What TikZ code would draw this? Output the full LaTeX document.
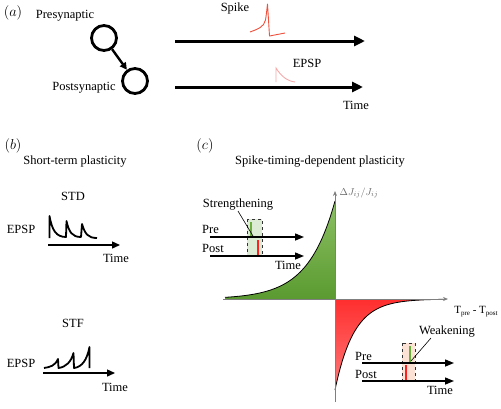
\documentclass[tikz,border=0pt]{standalone}
\usepackage{fontspec}
\setmainfont{Liberation Serif}
\usetikzlibrary{arrows.meta}
\definecolor{spikered}{HTML}{F0503C}
\definecolor{epsppink}{HTML}{F4A8A8}
\definecolor{gtop}{HTML}{8CC063}
\definecolor{gbot}{HTML}{5A9A30}
\definecolor{rtop}{HTML}{FF2E2E}
\definecolor{rbot}{HTML}{FF7A7A}
\definecolor{boxgreen}{HTML}{DCEBD3}
\definecolor{boxsalmon}{HTML}{FBE2D4}
\definecolor{axisgray}{HTML}{7F7F7F}
\definecolor{barred}{HTML}{FF2020}
\definecolor{bargreen}{HTML}{6AAE3C}
\begin{document}
\begin{tikzpicture}[x=1pt,y=-1pt,
  every node/.style={font=\fontsize{12.5}{15}\selectfont, inner sep=0pt},
  panel/.style={font=\fontsize{15}{18}\selectfont},
  neuron/.style={circle, draw, line width=2.8pt, minimum size=25pt},
  bigarrow/.style={line width=3pt, -{Triangle[length=11pt,width=10pt]}},
  synarrow/.style={line width=2.4pt, -{Triangle[length=7pt,width=7pt]}},
  midarrow/.style={line width=1.4pt, -{Triangle[length=8pt,width=7pt]}},
  insetarrow/.style={line width=1.4pt, -{Triangle[length=9pt,width=7pt]}},
  trace/.style={line width=1.8pt, line join=round},
  axisline/.style={axisgray, line width=0.7pt, -{Stealth[length=5pt,width=4pt]}},
  dashbox/.style={draw=black!80, dashed, line width=0.9pt},
  pointer/.style={line width=0.6pt}
]
\useasboundingbox (0,0) rectangle (501,408);

% ---------- (a)
\node[panel] (la) at (13,13) {$(a)$};
\node (pretext) at (65,16) {Presynaptic};
\node (posttext) at (84,88) {Postsynaptic};
\node[neuron] (pre) at (104,38) {};
\node[neuron] (post) at (135,81) {};
\draw[synarrow] (pre) -- (post);

\coordinate (a1s) at (175,41);
\coordinate (a1e) at (365,41);
\coordinate (a2s) at (175,87);
\coordinate (a2e) at (363,87);
\draw[bigarrow] (a1s) -- (a1e);
\draw[bigarrow] (a2s) -- (a2e);

\node (spiketext) at (235,8) {Spike};
\draw[spikered, line width=0.9pt, line join=round]
  (250,32) .. controls (258,29) and (264,27) .. (265.5,20)
  .. controls (266.5,14) and (267,8) .. (267.5,4)
  -- (269.5,36) -- (285,33);
\node (epsptext) at (307,63) {EPSP};
\draw[epsppink, line width=0.9pt] (276,82) -- (276,68)
  .. controls (281,76) and (287,81) .. (295,82);
\node (timea) at (356,105) {Time};

% ---------- (b)
\node[panel] (lb) at (13,146) {$(b)$};
\node (stptext) at (75,162) {Short-term plasticity};
\node (stdtext) at (73,196) {STD};
\node (epsp1) at (21,229) {EPSP};
\draw[trace] (49.5,238) -- (49.5,216)
  .. controls (52,230) and (56,237) .. (66,237)
  -- (66.5,221)
  .. controls (69,232) and (72,237) .. (81,237)
  -- (82,224)
  .. controls (85,234) and (88,238) .. (97,238);
\coordinate (b1s) at (48,245);
\coordinate (b1e) at (120,245);
\draw[midarrow] (b1s) -- (b1e);
\node (time1) at (116,258) {Time};

\node (stftext) at (73,323) {STF};
\node (epsp2) at (21,363) {EPSP};
\draw[trace] (44,368) .. controls (50,367) and (55,366) .. (58,359)
  -- (58.5,368)
  .. controls (66,367) and (71,362) .. (73.5,353)
  -- (74,368)
  .. controls (82,367) and (87,360) .. (89.5,347)
  -- (89.5,368);
\coordinate (b2s) at (43,373);
\coordinate (b2e) at (115,373);
\draw[midarrow] (b2s) -- (b2e);
\node (time2) at (115,387) {Time};

% ---------- (c)
\node[panel] (lc) at (205,146) {$(c)$};
\node (stdptext) at (320,162) {Spike-timing-dependent plasticity};

% green (LTP) region
\shade[top color=gtop, bottom color=gbot]
  (225,299) -- plot[domain=225:335, samples=80] (\x,{299-98*exp((\x-335)/27)}) -- (335,299) -- cycle;
\draw[line width=0.8pt] plot[domain=225:335, samples=80] (\x,{299-98*exp((\x-335)/27)});
% red (LTD) region
\shade[top color=rtop, bottom color=rbot]
  (335,299) -- plot[domain=335:445, samples=80] (\x,{299+91*exp(-(\x-335)/19)}) -- (445,299) -- cycle;
\draw[line width=0.8pt] plot[domain=335:445, samples=80] (\x,{299+91*exp(-(\x-335)/19)});

% axes
\coordinate (hx0) at (223,299);
\coordinate (hx1) at (448,299);
\coordinate (vy0) at (335,402);
\coordinate (vy1) at (335,191);
\draw[axisline] (hx0) -- (hx1);
\draw[axisline] (vy0) -- (vy1);
\node[text=black!60, font=\fontsize{10}{12}\selectfont] (ylab) at (359,193) {$\Delta J_{ij}/J_{ij}$};
\node (xlab) at (476,312) {\fontsize{11}{13}\selectfont T\raisebox{-0.4ex}{\fontsize{7}{8}\selectfont pre} - T\raisebox{-0.4ex}{\fontsize{7}{8}\selectfont post}};

% strengthening inset
\draw[dashbox, fill=boxgreen] (247,219) rectangle (262,256);
\node (pre1) [anchor=west] at (202,229) {Pre};
\node (post1) [anchor=west] at (202,248) {Post};
\coordinate (s1s) at (210,237);
\coordinate (s1e) at (304,237);
\coordinate (s2s) at (210,256);
\coordinate (s2e) at (304,256);
\draw[insetarrow] (s1s) -- (s1e);
\draw[insetarrow] (s2s) -- (s2e);
\draw[bargreen, line width=1.8pt] (251,222) -- (251,236);
\draw[barred, line width=1.8pt] (258,240) -- (258,255);
\node (strtext) at (238,205) {Strengthening};
\coordinate (strp0) at (238,211);
\coordinate (strp1) at (253,236);
\draw[pointer] (strp0) -- (strp1);
\node (time3) at (288,265) {Time};

% weakening inset
\draw[dashbox, fill=boxsalmon] (402,343) rectangle (415,380);
\node (pre2) [anchor=west] at (355,356) {Pre};
\node (post2) [anchor=west] at (355,374) {Post};
\coordinate (w1s) at (362,363);
\coordinate (w1e) at (454,363);
\coordinate (w2s) at (362,381);
\coordinate (w2e) at (454,381);
\draw[insetarrow] (w1s) -- (w1e);
\draw[insetarrow] (w2s) -- (w2e);
\draw[bargreen, line width=1.8pt] (410,346) -- (410,362);
\draw[barred, line width=1.8pt] (406,365) -- (406,380);
\node (weaktext) at (447,332) {Weakening};
\coordinate (wp0) at (431,338);
\coordinate (wp1) at (411,361);
\draw[pointer] (wp0) -- (wp1);
\node (time4) at (440,390) {Time};
\end{tikzpicture}
\end{document}
